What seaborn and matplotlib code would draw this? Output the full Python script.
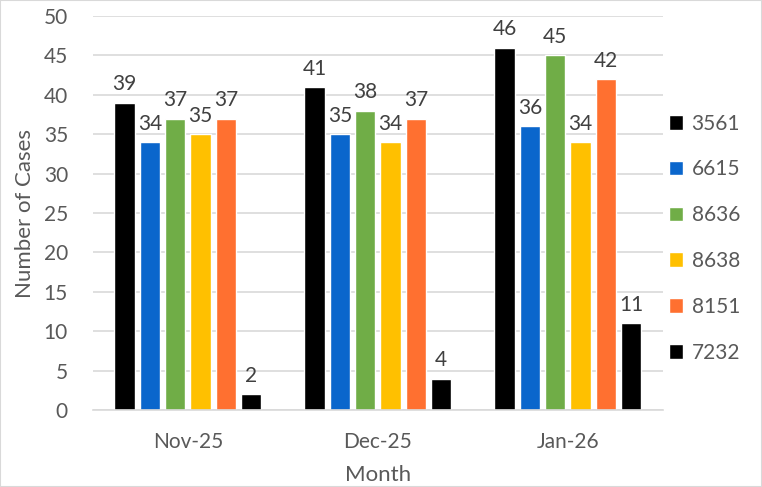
import pandas as pd
import matplotlib.pyplot as plt
import seaborn as sns
from matplotlib.patches import Rectangle

# values
months = ["Nov-25", "Dec-25", "Jan-26"]
series_names = ["3561", "6615", "8636", "8638", "8151", "7232"]
cases_3561 = [39, 41, 46]
cases_6615 = [34, 35, 36]
cases_8636 = [37, 38, 45]
cases_8638 = [35, 34, 34]
cases_8151 = [37, 37, 42]
cases_7232 = [2, 4, 11]

colors = ["#000000", "#0A66CC", "#70AD47", "#FFC000", "#FF7030", "#000000"]

all_values = [cases_3561, cases_6615, cases_8636, cases_8638, cases_8151, cases_7232]
rows = []
for name, vals in zip(series_names, all_values):
    for m, v in zip(months, vals):
        rows.append({"Month": m, "Series": name, "Cases": v})
df = pd.DataFrame(rows)

sns.set_style("white")
plt.rcParams['font.family'] = ['Lato', 'DejaVu Sans']
text_color = "#595959"

fig = plt.figure(figsize=(7.62, 4.87), dpi=100)
ax = fig.add_axes([0.122, 0.158, 0.748, 0.809])

sns.barplot(data=df, x="Month", y="Cases", hue="Series", order=months,
            hue_order=series_names, palette=colors, width=0.8, gap=0.2,
            saturation=1, ax=ax, legend=True)

for container in ax.containers:
    ax.bar_label(container, padding=6, fontsize=15, color="#404040")

ax.set_ylim(0, 50)
ax.set_yticks(range(0, 51, 5))
ax.set_xlim(-0.5, 2.5)
ax.grid(axis='y', color="#D9D9D9", linewidth=1.2)
ax.set_axisbelow(True)
for side in ["left", "right", "top"]:
    ax.spines[side].set_visible(False)
ax.spines["bottom"].set_color("#D9D9D9")
ax.spines["bottom"].set_linewidth(1.2)
ax.tick_params(axis='both', length=0, labelsize=15, labelcolor=text_color)
ax.tick_params(axis='y', pad=18)
ax.tick_params(axis='x', pad=16)

ax.set_ylabel("Number of Cases", fontsize=16, color=text_color, labelpad=6)
ax.set_xlabel("Month", fontsize=16, color=text_color, labelpad=9)

handles, labels = ax.get_legend_handles_labels()
ax.legend(handles, labels, loc='center left', bbox_to_anchor=(0.853, 0.511),
          bbox_transform=fig.transFigure, frameon=False, fontsize=15,
          labelcolor=text_color, handlelength=0.7, handleheight=0.7,
          handletextpad=0.4, labelspacing=1.24)

# light border round the chart area, as in the Excel export
fig.patches.append(Rectangle((0, 0), 1, 1, transform=fig.transFigure,
                             fill=False, edgecolor="#D9D9D9", linewidth=1.5))

plt.savefig("out.png", dpi=100)
plt.close()
